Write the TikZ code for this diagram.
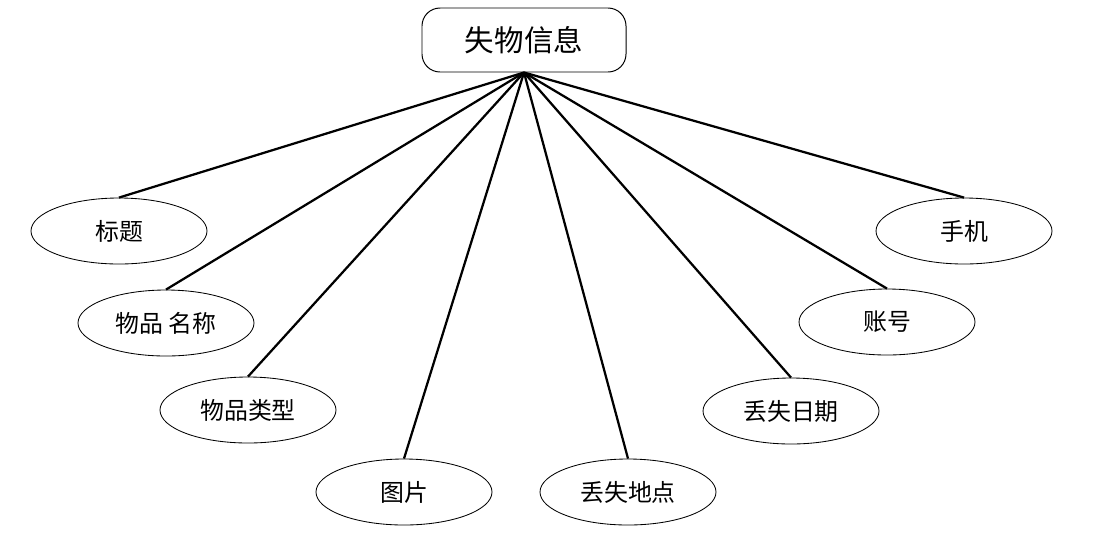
\documentclass[tikz,border=0pt]{standalone}
\usepackage{fontspec}
\usepackage{xcolor}
\usetikzlibrary{shapes.geometric}
\newfontfamily\cjk{Noto Sans CJK SC}
\definecolor{LFLine}{HTML}{000000}

\begin{document}
\begin{tikzpicture}[x=0.25mm,y=-0.25mm,
  entity/.style={draw=LFLine,line width=0.7pt,rounded corners=4.5mm,minimum width=51mm,minimum height=16mm,inner sep=0pt,font=\cjk\fontsize{21}{24}\selectfont},
  attr/.style={ellipse,draw=LFLine,line width=0.6pt,minimum width=44mm,minimum height=16.5mm,inner sep=0pt,font=\cjk\fontsize{17}{20}\selectfont},
  link/.style={line width=1.6pt,draw=LFLine}]
\path[use as bounding box] (0,0) rectangle (1099,535);
\node[entity] (info) at (524,40) {失物信息};
\node[attr] (title) at (119,231) {标题};
\node[attr] (name) at (166,323) {物品 名称};
\node[attr] (kind) at (248,410) {物品类型};
\node[attr] (pic) at (404,492) {图片};
\node[attr] (place) at (628,492) {丢失地点};
\node[attr] (date) at (791,411) {丢失日期};
\node[attr] (acct) at (887,322) {账号};
\node[attr] (phone) at (964,231) {手机};
\foreach \a in {title,name,kind,pic,place,date,acct,phone}
  \draw[link] (info.south) -- (\a.north);
\end{tikzpicture}
\end{document}
